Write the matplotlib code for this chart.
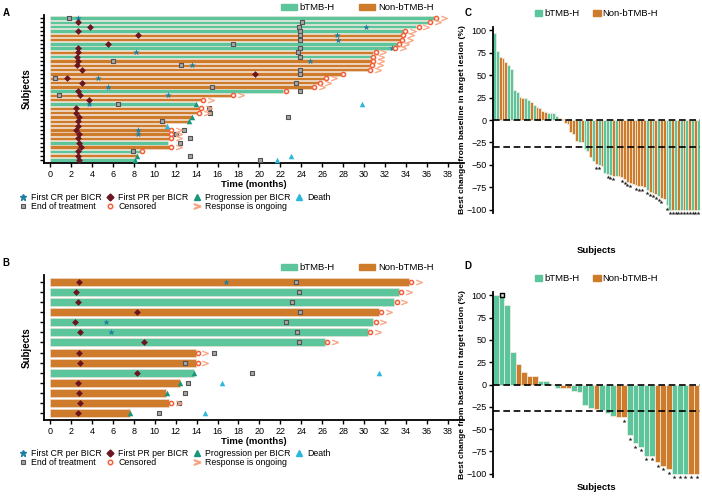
import numpy as np
import matplotlib.pyplot as plt
from matplotlib.patches import Patch
from matplotlib.lines import Line2D

plt.rcParams['font.family'] = ['Liberation Sans', 'DejaVu Sans']

GREEN = '#5cc59b'
ORANGE = '#cf7b2c'
nan = np.nan

# Panel A swimmer data (top row first)
grpA = list('GGGGOOGGOGOOOOOOOGOOGOOOOOOOOGOGOG')
endA = [36.7, 36.1, 35.0, 33.7, 33.5, 33.4, 33.1, 32.8, 30.9, 30.7, 30.7, 30.6, 30.4, 27.8, 26.2, 25.6, 25.0,
        22.3, 17.3, 14.4, 13.9, 14.2, 14.0, 13.6, 13.3, 11.1, 11.4, 11.4, 11.4, 11.3, 11.4, 8.6, 8.3, 8.1]
crA = [2.65, nan, 30.2, nan, 27.4, 27.5, nan, 32.7, 8.2, nan, 24.8, 13.6, nan, nan, 4.6, nan, 5.5,
       nan, 11.3, nan, 3.7, nan, nan, nan, nan, nan, 8.4, 8.4, nan, nan, nan, nan, nan, nan]
prA = [nan, 2.7, 3.85, 2.7, 8.4, nan, 5.5, 2.7, 2.7, 2.6, 2.7, 2.6, 3.05, 19.6, 1.6, 3.05, nan,
       2.7, 2.85, 3.7, nan, 2.5, 2.5, 2.8, 2.7, 2.7, 2.5, 2.8, 2.7, 2.8, 3.0, 2.7, 2.7, 2.8]
eotA = [1.8, 24.1, 23.8, 23.9, 23.9, 23.9, 17.5, 23.9, 23.7, 23.9, 6.0, 12.5, 23.9, 23.9, 0.5, 23.5, 15.5,
        23.9, 0.9, nan, 6.5, 15.2, 15.3, 22.7, 10.7, nan, 12.8, 12.0, 13.4, 12.4, nan, 7.9, 13.4, 20.1]
progA = [nan] * 20 + [13.9, nan, nan, 13.6, 13.3, nan, nan, nan, nan, nan, nan, nan, 8.3, 8.15]
deathA = [nan] * 20 + [29.8, nan, nan, nan, nan, 11.2, nan, nan, nan, nan, nan, nan, 23.0, 21.7]
censA = [1] * 20 + [0, 1, 1, 0, 0, 0, 1, 1, 1, 0, 1, 1, 0, 0]
ongoA = [1] * 13 + [0, 1, 1, 1, 0, 1, 1, 0, 1, 1, 0, 0, 0, 1, 1, 1, 0, 1, 0, 0, 0]

# Panel B swimmer data
grpB = list('OGGOGGGOOGOOOO')
endB = [34.3, 33.3, 32.9, 31.4, 30.9, 30.4, 26.3, 13.9, 13.9, 13.8, 12.4, 11.1, 11.4, 7.6]
crB = [16.8, nan, nan, nan, 5.3, 5.8, nan, nan, nan, nan, nan, nan, nan, nan]
prB = [2.8, 2.5, 2.65, 8.3, 2.4, 2.85, 9.0, 2.8, 2.85, 8.3, 2.65, 2.8, 2.85, 2.65]
eotB = [23.5, 23.8, 23.1, 23.9, 22.5, 23.6, 23.8, 15.7, 12.9, 19.3, 13.2, 12.9, 12.3, 10.4]
progB = [nan] * 9 + [13.8, 12.4, 11.2, nan, 7.6]
deathB = [nan] * 9 + [31.4, 16.4, nan, nan, 14.8]
censB = [1] * 9 + [0, 0, 0, 1, 0]
ongoB = [1] * 9 + [0, 0, 0, 1, 0]

# Panel C waterfall
valC = [97, 77, 70, 69, 65, 61, 57, 33, 31, 26,
        25, 24, 22, 20, 17,
        14, 13, 10, 9, 8, 8, 8, 5, 2, 1,
        -3, -4, -13, -16, -23, -24, -24, -32, -35, -41, -46, -49, -50, -51,
        -59, -60, -61, -62, -63, -63, -64, -66, -69, -70, -71, -73, -74, -74, -75,
        -78, -80, -81, -83, -85, -87, -88, -95] + [-100] * 11
grpC = list('GGOOOGGGGO' 'OGGOG' 'OOOOGGGGOO'
            'OOOOOGOGGOGOGO' 'GGGOGOOOOOOOOOO' 'GOGOGOOG' 'GOGOGOGOGOG')
starC = [0] * 36 + [1, 1, 0, 0, 1, 1, 1, 0, 0, 1, 1, 1, 1, 0, 1, 1, 1, 0, 1, 1, 1, 1, 1, 1, 0] + [1] * 12

# Panel D waterfall
valD = [100, 100, 89, 37, 23, 14, 10, 10, 4, 4, 1, -4, -4, -4, -7, -8, -23, -26, -27, -29, -32, -35,
        -37, -37, -57, -66, -70, -80, -80, -87, -91, -95, -100, -100, -100, -100, -100]
grpD = list('GGGGOOOOGGGGOOGGGGOGGGOOGGGGGOOOGGGOO')
starD = [0] * 23 + [1] * 14

FS = 6.5

MK = dict(cr=dict(marker='*', color='#1f7f9e', s=24, lw=0),
          pr=dict(marker='D', color='#6a1620', s=12, lw=0),
          prog=dict(marker='^', color='#17977a', s=16, lw=0),
          eot=dict(marker='s', color='#a8a8a8', edgecolors='#555555', s=10, lw=0.8),
          cens=dict(marker='o', color='white', edgecolors='#f2603a', s=9, lw=1.1),
          ongo=dict(marker='$>$', color='#f7a37f', s=20, lw=0.3),
          death=dict(marker='^', color='#2bb7dc', s=16, lw=0))


def swimmer(ax, grp, end, cr, pr, prog, eot, cens, ongo, death):
    n = len(grp)
    y = np.arange(n)[::-1]
    end = np.array(end)
    cols = [GREEN if g == 'G' else ORANGE for g in grp]
    ax.barh(y, end, height=0.8, color=cols, edgecolor='#efe3d6', linewidth=0.4, zorder=1)
    cens = np.array(cens, bool)
    ongo = np.array(ongo, bool)
    ax.scatter(eot, y, zorder=3, **MK['eot'])
    ax.scatter(cr, y, zorder=4, **MK['cr'])
    ax.scatter(pr, y, zorder=4, **MK['pr'])
    ax.scatter(prog, y, zorder=4, **MK['prog'])
    ax.scatter(end[cens] + 0.2, y[cens], zorder=4, **MK['cens'])
    ax.scatter(end[ongo] + 0.95, y[ongo], zorder=4, **MK['ongo'])
    ax.scatter(death, y, zorder=4, **MK['death'])
    ax.set_ylim(-0.7, n - 0.3)
    ax.set_xlim(-0.6, 39.5)
    ax.set_xticks(range(0, 40, 2))
    ax.set_yticks(y)
    ax.set_yticklabels([])
    ax.tick_params(axis='y', length=3, width=1)
    ax.tick_params(axis='x', length=3, width=1, labelsize=FS, pad=2)
    for s in ['top', 'right']:
        ax.spines[s].set_visible(False)
    for s in ['left', 'bottom']:
        ax.spines[s].set_linewidth(1.3)
    ax.set_xlabel('Time (months)', fontweight='bold', fontsize=FS + 0.3, labelpad=1)
    ax.set_ylabel('Subjects', fontweight='bold', fontsize=FS + 0.5, labelpad=2)
    ax.legend(handles=[Patch(color=GREEN), Patch(color=ORANGE)], labels=['bTMB-H', 'Non-bTMB-H'],
              loc='lower right', bbox_to_anchor=(0.94, 0.985), ncol=2, frameon=False, fontsize=FS + 0.3,
              handlelength=1.7, handleheight=0.7, handletextpad=0.3, columnspacing=2.6, borderpad=0)


def marker_legend(y0):
    h = [Line2D([], [], ls='', marker='*', color='#1f7f9e', ms=5),
         Line2D([], [], ls='', marker='s', mfc='#a8a8a8', mec='#555555', ms=3.2, mew=0.8),
         Line2D([], [], ls='', marker='D', color='#6a1620', ms=3.5),
         Line2D([], [], ls='', marker='o', mfc='white', mec='#f2603a', ms=3.2, mew=1.1),
         Line2D([], [], ls='', marker='^', color='#17977a', ms=4.2),
         Line2D([], [], ls='', marker='$>$', color='#f7a37f', ms=4.5),
         Line2D([], [], ls='', marker='^', color='#2bb7dc', ms=4.2)]
    lab = ['First CR per BICR', 'End of treatment', 'First PR per BICR', 'Censored',
           'Progression per BICR', 'Response is ongoing', 'Death']
    fig.legend(h, lab, loc='upper left', bbox_to_anchor=(0.02, y0), ncol=4, frameon=False, fontsize=FS - 0.2,
               handlelength=1.0, handletextpad=0.4, labelspacing=-0.05, columnspacing=0.5, borderpad=0)


def waterfall(ax, vals, grp, star, pad):
    vals = np.array(vals, float)
    x = np.arange(len(vals))
    cols = [GREEN if g == 'G' else ORANGE for g in grp]
    ax.bar(x, vals, width=1.0, color=cols, edgecolor='#f4efe6', linewidth=0.5, zorder=1)
    ax.axhline(0, color='black', ls=(0, (4, 2.2)), lw=1.2, zorder=3)
    ax.axhline(-30, color='black', ls=(0, (4, 2.2)), lw=1.2, zorder=3)
    star = np.array(star, bool)
    ax.scatter(x[star], vals[star] - 4, marker='*', color='#222222', s=9, lw=0, zorder=4)
    ax.set_xlim(-0.6, len(vals) - 0.4)
    ax.set_ylim(-106, 106)
    ax.set_yticks(range(-100, 101, 25))
    ax.set_xticks([])
    ax.tick_params(axis='y', length=3, width=1, labelsize=FS, pad=1.5)
    for s in ['top', 'right', 'bottom']:
        ax.spines[s].set_visible(False)
    ax.spines['left'].set_linewidth(1.3)
    ax.spines['left'].set_bounds(-104, 104)
    ax.set_xlabel('Subjects', fontweight='bold', fontsize=FS + 0.3, labelpad=pad)
    ax.set_ylabel('Best change from baseline in target lesion (%)', fontweight='bold', fontsize=FS - 0.4,
                  labelpad=0.5)
    ax.legend(handles=[Patch(color=GREEN), Patch(color=ORANGE)], labels=['bTMB-H', 'Non-bTMB-H'],
              loc='lower center', bbox_to_anchor=(0.5, 1.01), ncol=2, frameon=False, fontsize=FS + 0.3,
              handlelength=0.8, handleheight=0.7, handletextpad=0.2, columnspacing=1.5, borderpad=0)
    return x, vals


fig = plt.figure(figsize=(7.02, 5.0), dpi=100)

axA = fig.add_axes([0.0623, 0.674, 0.598, 0.296])
swimmer(axA, grpA, endA, crA, prA, progA, eotA, censA, ongoA, deathA)
marker_legend(0.622)

axB = fig.add_axes([0.0623, 0.16, 0.598, 0.29])
swimmer(axB, grpB, endB, crB, prB, progB, eotB, censB, ongoB, deathB)
marker_legend(0.11)

axC = fig.add_axes([0.702, 0.57, 0.295, 0.38])
waterfall(axC, valC, grpC, starC, 22)

axD = fig.add_axes([0.702, 0.042, 0.295, 0.378])
xD, vD = waterfall(axD, valD, grpD, starD, 3)
axD.scatter([xD[1]], [vD[1]], marker='s', s=12, facecolor='#dddddd', edgecolor='black', lw=1, zorder=5)

for lab, (px, py) in zip('ABCD', [(0.004, 0.985), (0.004, 0.483), (0.662, 0.985), (0.662, 0.478)]):
    fig.text(px, py, lab, fontweight='bold', fontsize=7, va='top')

fig.savefig('out.png', dpi=100)
